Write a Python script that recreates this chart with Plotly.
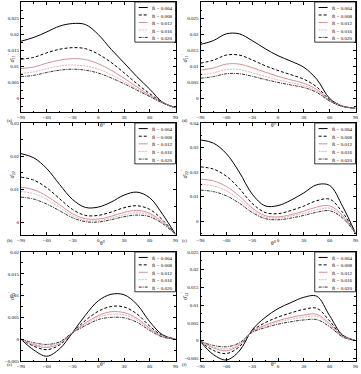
import plotly.graph_objects as go
from plotly.subplots import make_subplots

# angle samples (degrees)
theta = [-90, -75, -60, -45, -30, -15, 0, 15, 30, 45, 60, 75, 90]
r_labels = ["0.004", "0.008", "0.012", "0.016", "0.020"]

# (a) sigma11' , one list per R value
panel_a = [
    [0.0178, 0.0190, 0.0207, 0.0225, 0.0233, 0.0230, 0.0199, 0.0153, 0.0111, 0.0068, 0.0029, -0.0012, -0.0029],
    [0.0122, 0.0128, 0.0142, 0.0153, 0.0158, 0.0155, 0.0138, 0.0112, 0.0080, 0.0046, 0.0015, -0.0012, -0.0029],
    [0.0093, 0.0098, 0.0110, 0.0119, 0.0124, 0.0121, 0.0108, 0.0088, 0.0063, 0.0036, 0.0010, -0.0013, -0.0029],
    [0.0078, 0.0083, 0.0093, 0.0101, 0.0104, 0.0101, 0.0091, 0.0074, 0.0053, 0.0030, 0.0008, -0.0014, -0.0029],
    [0.0068, 0.0072, 0.0081, 0.0088, 0.0091, 0.0088, 0.0079, 0.0064, 0.0046, 0.0026, 0.0006, -0.0014, -0.0029],
]
# (d) sigma11'
panel_d = [
    [0.0168, 0.0180, 0.0201, 0.0201, 0.0180, 0.0155, 0.0133, 0.0116, 0.0097, 0.0060, 0.0000, -0.0024, -0.0030],
    [0.0110, 0.0119, 0.0135, 0.0135, 0.0120, 0.0102, 0.0087, 0.0074, 0.0060, 0.0036, -0.0004, -0.0024, -0.0030],
    [0.0088, 0.0095, 0.0107, 0.0107, 0.0096, 0.0082, 0.0069, 0.0058, 0.0047, 0.0028, -0.0006, -0.0024, -0.0030],
    [0.0074, 0.0080, 0.0090, 0.0090, 0.0080, 0.0069, 0.0058, 0.0049, 0.0040, 0.0023, -0.0007, -0.0025, -0.0030],
    [0.0063, 0.0068, 0.0077, 0.0077, 0.0069, 0.0059, 0.0050, 0.0042, 0.0034, 0.0019, -0.0008, -0.0025, -0.0030],
]
# (b) sigma22'
panel_b = [
    [0.0208, 0.0195, 0.0163, 0.0115, 0.0070, 0.0046, 0.0047, 0.0062, 0.0083, 0.0092, 0.0075, 0.0025, -0.0035],
    [0.0137, 0.0128, 0.0105, 0.0072, 0.0040, 0.0022, 0.0022, 0.0032, 0.0045, 0.0051, 0.0040, 0.0008, -0.0035],
    [0.0107, 0.0099, 0.0080, 0.0054, 0.0027, 0.0012, 0.0011, 0.0019, 0.0031, 0.0037, 0.0028, 0.0002, -0.0035],
    [0.0094, 0.0087, 0.0070, 0.0046, 0.0021, 0.0007, 0.0006, 0.0014, 0.0024, 0.0030, 0.0023, 0.0000, -0.0035],
    [0.0077, 0.0071, 0.0056, 0.0036, 0.0015, 0.0003, 0.0002, 0.0009, 0.0018, 0.0023, 0.0018, -0.0003, -0.0035],
]
# (e) sigma22'
panel_e = [
    [0.0331, 0.0318, 0.0275, 0.0200, 0.0110, 0.0062, 0.0063, 0.0085, 0.0115, 0.0148, 0.0145, 0.0060, -0.0050],
    [0.0221, 0.0212, 0.0183, 0.0133, 0.0072, 0.0035, 0.0030, 0.0043, 0.0061, 0.0083, 0.0089, 0.0035, -0.0050],
    [0.0171, 0.0164, 0.0141, 0.0102, 0.0053, 0.0022, 0.0017, 0.0026, 0.0040, 0.0057, 0.0062, 0.0022, -0.0050],
    [0.0150, 0.0143, 0.0123, 0.0088, 0.0044, 0.0016, 0.0012, 0.0020, 0.0032, 0.0046, 0.0052, 0.0017, -0.0050],
    [0.0126, 0.0120, 0.0103, 0.0073, 0.0035, 0.0010, 0.0005, 0.0012, 0.0023, 0.0036, 0.0042, 0.0012, -0.0050],
]
# (c) sigma12'
panel_c = [
    [0.0000, -0.0025, -0.0039, -0.0022, 0.0015, 0.0055, 0.0088, 0.0103, 0.0102, 0.0080, 0.0040, 0.0010, 0.0000],
    [0.0000, -0.0016, -0.0024, -0.0013, 0.0015, 0.0043, 0.0064, 0.0075, 0.0074, 0.0058, 0.0030, 0.0008, 0.0000],
    [0.0000, -0.0013, -0.0019, -0.0010, 0.0015, 0.0037, 0.0054, 0.0063, 0.0061, 0.0048, 0.0025, 0.0007, 0.0000],
    [0.0000, -0.0011, -0.0016, -0.0008, 0.0015, 0.0034, 0.0050, 0.0057, 0.0056, 0.0044, 0.0023, 0.0006, 0.0000],
    [0.0000, -0.0008, -0.0012, -0.0006, 0.0015, 0.0031, 0.0045, 0.0050, 0.0049, 0.0039, 0.0020, 0.0005, 0.0000],
]
# (f) sigma12'
panel_f = [
    [-0.0003, -0.0040, -0.0055, -0.0030, 0.0030, 0.0065, 0.0090, 0.0107, 0.0122, 0.0125, 0.0070, 0.0015, 0.0000],
    [-0.0003, -0.0028, -0.0037, -0.0018, 0.0027, 0.0050, 0.0066, 0.0078, 0.0088, 0.0091, 0.0055, 0.0013, 0.0000],
    [-0.0003, -0.0021, -0.0029, -0.0013, 0.0025, 0.0043, 0.0056, 0.0065, 0.0072, 0.0074, 0.0047, 0.0012, 0.0000],
    [-0.0003, -0.0018, -0.0024, -0.0010, 0.0024, 0.0040, 0.0052, 0.0060, 0.0066, 0.0068, 0.0044, 0.0011, 0.0000],
    [-0.0003, -0.0014, -0.0018, -0.0007, 0.0023, 0.0036, 0.0046, 0.0053, 0.0058, 0.0059, 0.0039, 0.0010, 0.0000],
]

W, H = 361, 374
FONT = "Liberation Serif"

styles = [
    dict(color="black", dash="solid"),
    dict(color="black", dash="3px,2px"),
    dict(color="#d58f9a", dash="solid"),
    dict(color="#e2b3bb", dash="2px,1px"),
    dict(color="#333333", dash="3px,1px,1px,1px"),
]

# row, col, data, label, y title, y range, dtick
panels = [
    (1, 1, panel_a, "(a)", "11", [-0.0042, 0.03], 0.005),
    (1, 2, panel_d, "(d)", "11", [-0.0042, 0.03], 0.005),
    (2, 1, panel_b, "(b)", "22", [-0.0037, 0.03], 0.01),
    (2, 2, panel_e, "(e)", "22", [-0.0057, 0.04], 0.01),
    (3, 1, panel_c, "(c)", "12", [-0.005, 0.02], 0.005),
    (3, 2, panel_f, "(f)", "12", [-0.0058, 0.025], 0.005),
]

# pixel boxes of the plot areas
col_px = {1: (21, 175.5), 2: (200.5, 355.5)}
row_px = {1: (2, 112), 2: (123, 235), 3: (252, 361)}
# vertical offset of the panel letter below each plot area
label_dy = {1: 4, 2: 5, 3: 8}

fig = make_subplots(rows=3, cols=2)

for row, col, data, label, sub, yr, dt in panels:
    for i, ys in enumerate(data):
        fig.add_trace(go.Scatter(
            x=theta, y=ys, mode="lines", showlegend=False,
            line=dict(width=1, shape="spline", smoothing=1.0, **styles[i]),
        ), row=row, col=col)

    x0, x1 = col_px[col]
    y0, y1 = row_px[row]
    fig.update_xaxes(
        domain=[x0 / W, x1 / W], range=[-90, 90],
        tickvals=[-90, -60, -30, 0, 30, 60, 90],
        minor=dict(dtick=15, ticks="inside", ticklen=1.5, tickcolor="black"),
        row=row, col=col,
    )
    fig.update_yaxes(
        domain=[1 - y1 / H, 1 - y0 / H], range=yr, dtick=dt, tick0=0,
        minor=dict(dtick=dt / 2, ticks="inside", ticklen=1.5, tickcolor="black"),
        row=row, col=col,
    )

    n = (row - 1) * 2 + col
    xr = "x domain" if n == 1 else f"x{n} domain"
    yrf = "y domain" if n == 1 else f"y{n} domain"

    # legend box
    fig.add_shape(type="rect", xref=xr, yref=yrf, x0=0.737, x1=1.0, y0=0.635, y1=1.0,
                  line=dict(color="black", width=0.8), fillcolor="white", layer="above")
    for i, lab in enumerate(r_labels):
        yy = 0.95 - i * 0.068
        fig.add_shape(type="line", xref=xr, yref=yrf, x0=0.762, x1=0.82, y0=yy, y1=yy,
                      line=dict(width=1, **styles[i]), layer="above")
        fig.add_annotation(xref=xr, yref=yrf, x=0.835, y=yy - 0.01, xanchor="left", yanchor="middle",
                           text="R\u0304 = " + lab, showarrow=False,
                           font=dict(family=FONT, size=5, color="black"))

    # y title
    fig.add_annotation(xref="paper", yref="paper", x=(x0 - 16) / W, y=1 - ((y0 + y1) / 2 - 4) / H,
                       text=f"\u03c3\u0304<sub>{sub}</sub><sup>'</sup>", textangle=-90,
                       showarrow=False, font=dict(family=FONT, size=6, color="black"))
    # x title
    fig.add_annotation(xref="paper", yref="paper", x=(x0 + x1) / 2 / W, y=1 - (y1 + 8) / H,
                       text="\u03b8\u00b0", showarrow=False,
                       font=dict(family=FONT, size=5.5, color="black"))
    # panel label
    fig.add_annotation(xref="paper", yref="paper", x=(x0 - 16) / W, y=1 - (y1 + label_dy[row]) / H,
                       text=label, showarrow=False,
                       font=dict(family=FONT, size=4.5, color="black"))

fig.update_xaxes(
    showline=True, linecolor="black", linewidth=1, mirror="ticks",
    ticks="inside", ticklen=3, tickcolor="black", showgrid=False, zeroline=False,
    tickfont=dict(family=FONT, size=5, color="black"), automargin=False,
)
fig.update_yaxes(
    showline=True, linecolor="black", linewidth=1, mirror="ticks",
    ticks="inside", ticklen=3, tickcolor="black", showgrid=False, zeroline=False,
    tickfont=dict(family=FONT, size=5, color="black"), automargin=False,
)

fig.update_layout(
    width=W, height=H,
    margin=dict(l=0, r=0, t=0, b=0, autoexpand=False),
    paper_bgcolor="white", plot_bgcolor="white",
    showlegend=False,
)

# drop the page's default body margin so the figure sits at the window corner
fig.write_html("out.html", config={"displayModeBar": False},
               post_script="document.body.style.margin='0px';")
